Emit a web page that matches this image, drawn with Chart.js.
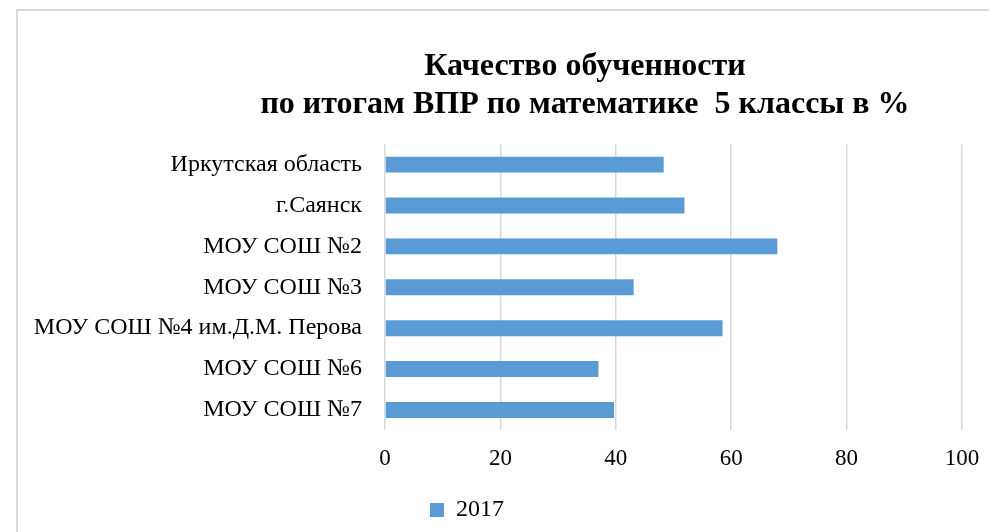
<!DOCTYPE html>
<html>
<head>
<meta charset="utf-8">
<script src="https://cdn.jsdelivr.net/npm/chart.js@4"></script>
<style>
  html, body { margin: 0; padding: 0; background: #fff; }
  #wrap { position: relative; width: 989px; height: 532px; overflow: hidden; }
  #frame { position: absolute; left: 16px; top: 9px; width: 1100px; height: 700px; border: 2px solid #d9d9d9; box-sizing: border-box; pointer-events: none; }
  canvas { position: absolute; left: 0; top: 0; }
</style>
</head>
<body>
<div id="wrap">
  <div id="frame"></div>
  <canvas id="c" width="989" height="532"></canvas>
</div>
<script>
const titleLines = ['Качество обученности', 'по итогам ВПР по математике  5 классы в %'];
const categories = [
  'Иркутская область',
  'г.Саянск',
  'МОУ СОШ №2',
  'МОУ СОШ №3',
  'МОУ СОШ №4 им.Д.М. Перова',
  'МОУ СОШ №6',
  'МОУ СОШ №7'
];
const seriesName = '2017';
const values2017 = [48.3, 51.9, 68.0, 43.1, 58.5, 37.0, 39.7];
const xTicks = [0, 20, 40, 60, 80, 100];

const FONT = '"Liberation Serif", "Times New Roman", serif';

const shiftBoxes = {
  id: 'shiftBoxes',
  afterLayout(chart) {
    const lg = chart.legend;
    if (lg) {
      const w = lg.right - lg.left;
      lg.left = 420;
      lg.right = 420 + w;
    }
    const t = chart.titleBlock;
    if (t) {
      const center = 585;
      const half = 420;
      t.left = center - half;
      t.right = center + half;
    }
  }
};

new Chart(document.getElementById('c'), {
  type: 'bar',
  data: {
    labels: categories,
    datasets: [{
      label: seriesName,
      data: values2017,
      backgroundColor: '#5B9BD5',
      borderWidth: 0,
      categoryPercentage: 1,
      barPercentage: 0.39
    }]
  },
  options: {
    indexAxis: 'y',
    responsive: false,
    animation: false,
    layout: { padding: { left: 0, right: 27, top: 0, bottom: 0 } },
    plugins: {
      title: {
        display: true,
        text: titleLines,
        color: '#000',
        font: { family: FONT, size: 32, weight: 'bold', lineHeight: 1.19 },
        padding: { top: 48, bottom: 20 }
      },
      legend: {
        display: true,
        position: 'bottom',
        align: 'start',
        labels: {
          color: '#000',
          font: { family: FONT, size: 24 },
          boxWidth: 14,
          boxHeight: 14,
          padding: 10
        }
      },
      tooltip: { enabled: false }
    },
    scales: {
      x: {
        type: 'linear',
        min: 0,
        max: 100,
        afterBuildTicks(scale) { scale.ticks = xTicks.map(v => ({ value: v })); },
        afterFit(scale) { scale.paddingRight = 0; scale.paddingLeft = 0; },
        grid: { color: '#d9d9d9', lineWidth: 1.5, drawTicks: false },
        border: { display: false },
        ticks: { color: '#000', font: { family: FONT, size: 23 }, padding: 15 }
      },
      y: {
        grid: { display: false },
        border: { display: false },
        afterFit(scale) { scale.width = 385; },
        ticks: { color: '#000', font: { family: FONT, size: 24 }, padding: 15 }
      }
    }
  },
  plugins: [shiftBoxes]
});
</script>
</body>
</html>
